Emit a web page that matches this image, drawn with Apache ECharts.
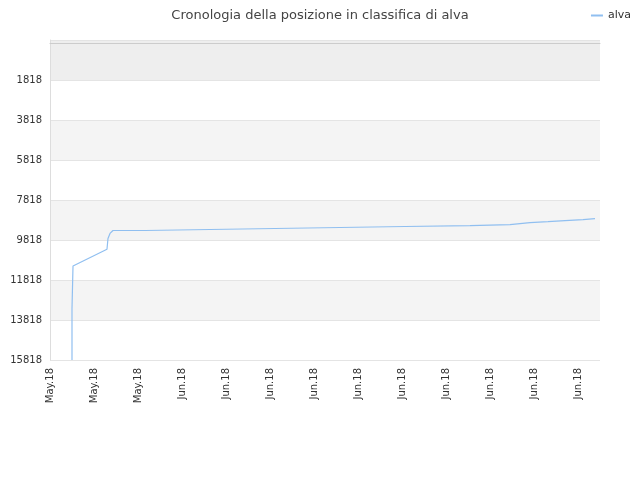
<!DOCTYPE html>
<html><head><meta charset="utf-8">
<script src="https://cdn.jsdelivr.net/npm/echarts@6/dist/echarts.min.js"></script>
<style>html,body{margin:0;padding:0}#c{width:640px;height:480px}</style>
</head><body><div id="c"></div>
<script>
const tickLabels = ['May.18','May.18','May.18','Jun.18','Jun.18','Jun.18','Jun.18','Jun.18','Jun.18','Jun.18','Jun.18','Jun.18','Jun.18'];
const xs = [0.5,0.5,0.5,0.523,1.295,1.318,1.364,1.432,2.159,2.182,3.636,3.659,5.114,5.136,6.591,6.614,8.068,8.091,9.545,9.568,10.455,10.5,10.909,11.318,11.705,12.114,12.386];
const ranks = [15818,13247,13247,11122,10282,9738,9490,9342,9342,9293,9293,9243,9243,9194,9194,9144,9144,9095,9095,9046,9046,8996,8947,8898,8848,8800,8749];
const chart = echarts.init(document.getElementById('c'));
chart.setOption({
  animation:false,
  title:{text:'Cronologia della posizione in classifica di alva',left:'center',top:4,textStyle:{fontSize:13,fontWeight:'normal',color:'#444',fontFamily:'DejaVu Sans'}},
  legend:{right:4,top:5,data:['alva'],itemWidth:12,itemHeight:2,itemGap:4,icon:'rect',textStyle:{fontSize:11,color:'#333',fontFamily:'DejaVu Sans'}},
  grid:{left:50,right:40,top:40,bottom:120},
  xAxis:{type:'value',min:0,max:12.5,interval:1,
    axisLine:{lineStyle:{color:'#ccc'}},axisTick:{show:false},
    splitLine:{show:false},
    axisLabel:{rotate:90,fontSize:10,color:'#333',fontFamily:'DejaVu Sans',formatter:v=>tickLabels[Math.round(v)]||''}},
  yAxis:{type:'value',inverse:true,min:-182,max:15818,interval:2000,
    axisLine:{show:true,lineStyle:{color:'#ddd'}},axisTick:{show:false},
    axisLabel:{fontSize:10,color:'#333',fontFamily:'DejaVu Sans',formatter:v=>v<0?'':String(v)},
    splitLine:{show:true,lineStyle:{color:'#e4e4e4'}},
    splitArea:{show:true,areaStyle:{color:['#eeeeee','#ffffff','#f4f4f4','#ffffff','#f4f4f4','#ffffff','#f4f4f4','#ffffff']}}},
  series:[{name:'alva',type:'line',symbol:'none',data:xs.map((x,i)=>[x,ranks[i]]),lineStyle:{color:'#90bff0',width:1.2},itemStyle:{color:'#90bff0'}}]
});
</script></body></html>
